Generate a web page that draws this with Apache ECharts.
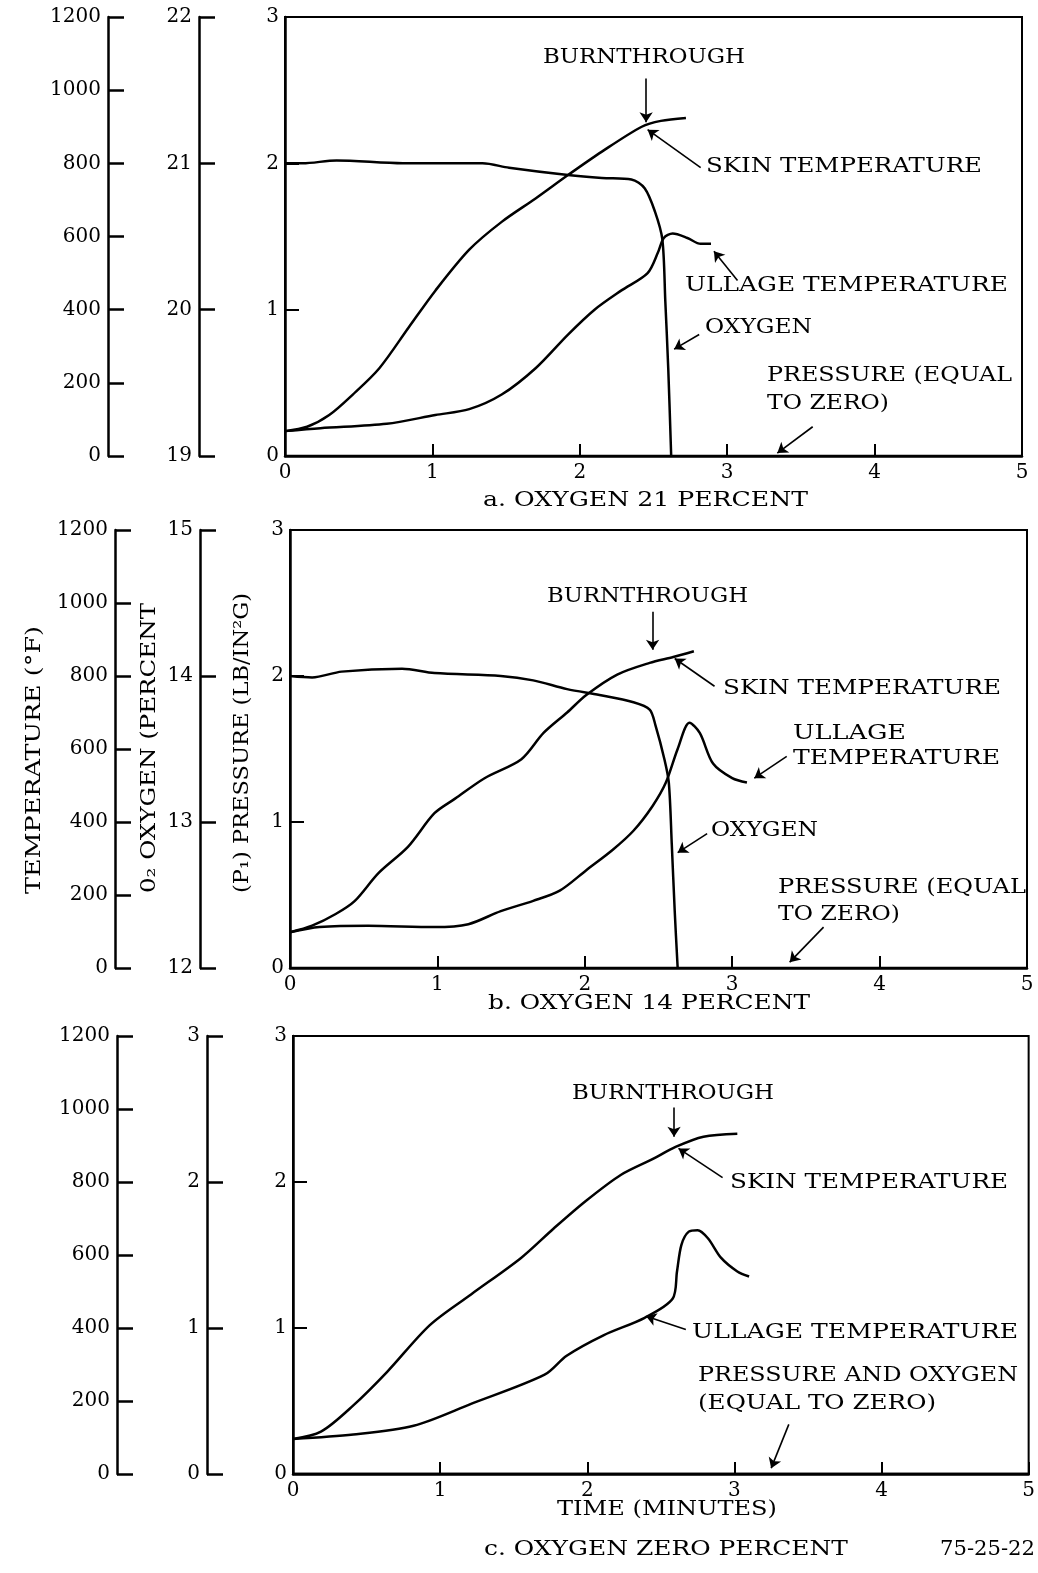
<!DOCTYPE html>
<html>
<head>
<meta charset="utf-8">
<script src="https://cdn.jsdelivr.net/npm/echarts@6/dist/echarts.min.js"></script>
<style>
html, body { margin: 0; padding: 0; background: #fff; }
#chart { width: 1038px; height: 1573px; }
</style>
</head>
<body>
<div id="chart"></div>
<script>
// time (minutes) / temperature (deg F) / oxygen (percent) / pressure (lb/in2 g)
var timeTicks = [0, 1, 2, 3, 4, 5];
var tempTicks = [0, 200, 400, 600, 800, 1000, 1200];
var pressTicks = [0, 1, 2, 3];
var oxyTicksA = [19, 20, 21, 22];
var oxyTicksB = [12, 13, 14, 15];
var oxyTicksC = [0, 1, 2, 3];

// a. oxygen 21 percent
var skinTempA = [[0, 68], [0.15, 80], [0.3, 112], [0.46, 168], [0.64, 240], [0.84, 352], [1.02, 452], [1.25, 564], [1.47, 640], [1.7, 704], [1.92, 768], [2.15, 832], [2.42, 900], [2.55, 916], [2.72, 924]];
var ullageTempA = [[0, 68], [0.24, 76], [0.69, 88], [1.02, 112], [1.25, 128], [1.47, 168], [1.7, 240], [1.92, 332], [2.1, 400], [2.28, 452], [2.46, 500], [2.53, 556], [2.57, 596], [2.63, 608], [2.73, 596], [2.82, 580], [2.89, 580]];
var oxygenA = [[0, 21.0], [0.12, 21.0], [0.35, 21.02], [0.8, 21.0], [1.34, 21.0], [1.52, 20.97], [1.92, 20.92], [2.15, 20.9], [2.35, 20.89], [2.44, 20.83], [2.51, 20.67], [2.56, 20.48], [2.58, 20.06], [2.6, 19.6], [2.62, 19.0]];
var pressureA = [[0, 0], [5, 0]];

// b. oxygen 14 percent
var skinTempB = [[0, 98], [0.15, 116], [0.31, 148], [0.44, 184], [0.6, 260], [0.8, 332], [0.98, 424], [1.12, 464], [1.32, 520], [1.57, 572], [1.72, 644], [1.88, 700], [2.01, 748], [2.22, 804], [2.44, 836], [2.6, 852], [2.74, 868]];
var ullageTempB = [[0, 98], [0.2, 112], [0.53, 116], [0.98, 112], [1.21, 120], [1.43, 156], [1.65, 184], [1.83, 212], [2.01, 268], [2.19, 324], [2.33, 376], [2.46, 444], [2.55, 508], [2.63, 600], [2.71, 672], [2.78, 644], [2.87, 560], [3.0, 520], [3.1, 508]];
var oxygenB = [[0, 14.0], [0.15, 13.99], [0.35, 14.03], [0.76, 14.05], [0.98, 14.02], [1.43, 14.0], [1.65, 13.97], [1.88, 13.91], [2.1, 13.87], [2.33, 13.82], [2.44, 13.77], [2.48, 13.66], [2.54, 13.43], [2.57, 13.27], [2.59, 12.85], [2.61, 12.39], [2.63, 12.0]];
var pressureB = [[0, 0], [5, 0]];

// c. oxygen zero percent
var skinTempC = [[0, 96], [0.19, 116], [0.41, 188], [0.64, 280], [0.93, 408], [1.21, 492], [1.55, 592], [1.77, 672], [1.99, 748], [2.23, 820], [2.45, 864], [2.6, 896], [2.79, 924], [3.02, 932]];
var ullageTempC = [[0, 96], [0.41, 108], [0.82, 132], [1.21, 192], [1.71, 272], [1.86, 324], [2.11, 380], [2.39, 428], [2.58, 480], [2.61, 555], [2.64, 628], [2.69, 664], [2.75, 668], [2.82, 646], [2.91, 592], [3.02, 555], [3.1, 541]];
var oxygenC = [[0, 0], [5, 0]];
var pressureC = [[0, 0], [5, 0]];

// leader arrows, in (time, pressure-axis) units: [fromT, fromV, toT, toV]
var arrowsA = [[2.45, 2.58, 2.45, 2.28], [2.82, 1.97, 2.46, 2.23], [3.07, 1.2, 2.91, 1.4], [2.81, 0.83, 2.64, 0.73], [3.58, 0.2, 3.34, 0.02]];
var arrowsB = [[2.46, 2.44, 2.46, 2.18], [2.88, 1.93, 2.61, 2.12], [3.37, 1.45, 3.15, 1.3], [2.83, 0.92, 2.63, 0.79], [3.62, 0.28, 3.39, 0.04]];
var arrowsC = [[2.59, 2.51, 2.59, 2.31], [2.92, 2.03, 2.62, 2.23], [2.67, 0.99, 2.4, 1.08], [3.37, 0.34, 3.25, 0.04]];

var FONT = 'DejaVu Serif';
var BLACK = '#000';

var panels = [
    { grid: { left: 285, top: 17, width: 737, height: 439 }, tempOff: 177, oxyOff: 86, oxyTicks: oxyTicksA,
      skin: skinTempA, ullage: ullageTempA, oxygen: oxygenA, pressure: pressureA, arrows: arrowsA },
    { grid: { left: 290, top: 530, width: 737, height: 438 }, tempOff: 175, oxyOff: 90, oxyTicks: oxyTicksB,
      skin: skinTempB, ullage: ullageTempB, oxygen: oxygenB, pressure: pressureB, arrows: arrowsB },
    { grid: { left: 293, top: 1036, width: 737, height: 438 }, tempOff: 176, oxyOff: 86, oxyTicks: oxyTicksC,
      skin: skinTempC, ullage: ullageTempC, oxygen: oxygenC, pressure: pressureC, arrows: arrowsC }
];

// free text: [text, left, centerY, width]
var notes = [
    ['BURNTHROUGH', 543, 58, 202],
    ['SKIN TEMPERATURE', 706, 167, 276],
    ['ULLAGE TEMPERATURE', 685, 286, 323],
    ['OXYGEN', 705, 328, 107],
    ['PRESSURE (EQUAL', 767, 376, 245],
    ['TO ZERO)', 767, 404, 122],
    ['a. OXYGEN 21 PERCENT', 483, 501, 325],
    ['BURNTHROUGH', 547, 597, 201],
    ['SKIN TEMPERATURE', 723, 689, 278],
    ['ULLAGE', 793, 734, 113],
    ['TEMPERATURE', 793, 759, 207],
    ['OXYGEN', 711, 831, 107],
    ['PRESSURE (EQUAL', 778, 888, 248],
    ['TO ZERO)', 778, 915, 122],
    ['b. OXYGEN 14 PERCENT', 488, 1004, 322],
    ['BURNTHROUGH', 572, 1094, 202],
    ['SKIN TEMPERATURE', 730, 1183, 278],
    ['ULLAGE TEMPERATURE', 692, 1333, 326],
    ['PRESSURE AND OXYGEN', 698, 1376, 320],
    ['(EQUAL TO ZERO)', 698, 1404, 238],
    ['TIME (MINUTES)', 557, 1510, 220],
    ['c. OXYGEN ZERO PERCENT', 484, 1550, 364],
    ['75-25-22', 940, 1550, 95]
];
// rotated axis titles: [text, centerX, centerY, length]
var axisTitles = [
    ['TEMPERATURE (\u00B0F)', 35, 760, 268],
    ['0\u2082 OXYGEN (PERCENT', 150, 748, 290],
    ['(P\u2081) PRESSURE (LB/IN\u00B2G)', 243, 743, 300]
];

var measureCtx = document.createElement('canvas').getContext('2d');
function textScale(text, size, width) {
    measureCtx.font = size + 'px "' + FONT + '"';
    return width / measureCtx.measureText(text).width;
}

var labelStyle = {
    color: BLACK, fontFamily: FONT, fontSize: 20,
    formatter: function (v) { return String(v); }
};

var grids = [], xAxes = [], yAxes = [], series = [];
panels.forEach(function (p, i) {
    grids.push({
        left: p.grid.left, top: p.grid.top, width: p.grid.width, height: p.grid.height,
        show: true, borderColor: BLACK, borderWidth: 2
    });
    xAxes.push({
        gridIndex: i, type: 'value',
        min: timeTicks[0], max: timeTicks[timeTicks.length - 1], interval: 1,
        axisLine: { lineStyle: { color: BLACK, width: 2.5 } },
        axisTick: { inside: true, length: 12, lineStyle: { color: BLACK, width: 2 } },
        axisLabel: Object.assign({ margin: 7 }, labelStyle),
        splitLine: { show: false }
    });
    // pressure axis (left edge of the plot)
    yAxes.push({
        gridIndex: i, type: 'value', position: 'left',
        min: pressTicks[0], max: pressTicks[pressTicks.length - 1], interval: 1,
        axisLine: { show: true, lineStyle: { color: BLACK, width: 2.5 } },
        axisTick: { inside: true, length: 14, lineStyle: { color: BLACK, width: 2 } },
        axisLabel: Object.assign({ margin: 6 }, labelStyle),
        splitLine: { show: false }
    });
    // temperature axis
    yAxes.push({
        gridIndex: i, type: 'value', position: 'left', offset: p.tempOff,
        min: tempTicks[0], max: tempTicks[tempTicks.length - 1], interval: 200,
        axisLine: { show: true, lineStyle: { color: BLACK, width: 2.5 } },
        axisTick: { inside: true, length: 16, lineStyle: { color: BLACK, width: 2.5 } },
        axisLabel: Object.assign({ margin: 7 }, labelStyle),
        splitLine: { show: false }
    });
    // oxygen axis
    yAxes.push({
        gridIndex: i, type: 'value', position: 'left', offset: p.oxyOff,
        min: p.oxyTicks[0], max: p.oxyTicks[p.oxyTicks.length - 1], interval: 1,
        axisLine: { show: true, lineStyle: { color: BLACK, width: 2.5 } },
        axisTick: { inside: true, length: 16, lineStyle: { color: BLACK, width: 2.5 } },
        axisLabel: Object.assign({ margin: 7 }, labelStyle),
        splitLine: { show: false }
    });

    var curve = function (name, data, yIdx) {
        return {
            name: name, type: 'line', xAxisIndex: i, yAxisIndex: yIdx, data: data,
            smooth: 0.3, showSymbol: false, silent: true,
            lineStyle: { color: BLACK, width: 2.5 }, z: 3
        };
    };
    series.push(curve('Skin temperature', p.skin, i * 3 + 1));
    series.push(curve('Ullage temperature', p.ullage, i * 3 + 1));
    series.push(curve('Oxygen', p.oxygen, i * 3 + 2));
    var pr = curve('Pressure', p.pressure, i * 3);
    pr.markLine = {
        silent: true, animation: false,
        symbol: ['none', 'arrow'], symbolSize: 10,
        label: { show: false },
        lineStyle: { color: BLACK, width: 1.6, type: 'solid' },
        data: p.arrows.map(function (a) {
            return [{ coord: [a[0], a[1]] }, { coord: [a[2], a[3]] }];
        })
    };
    series.push(pr);
});

var graphics = [];
notes.forEach(function (n) {
    graphics.push({
        type: 'text', x: n[1], y: n[2], scaleX: textScale(n[0], 20, n[3]), silent: true,
        style: { text: n[0], fill: BLACK, font: '20px "' + FONT + '"',
                 align: 'left', verticalAlign: 'middle', textAlign: 'left', textVerticalAlign: 'middle' }
    });
});
axisTitles.forEach(function (n) {
    graphics.push({
        type: 'text', x: n[1], y: n[2], rotation: Math.PI / 2, scaleX: textScale(n[0], 20, n[3]), silent: true,
        style: { text: n[0], fill: BLACK, font: '20px "' + FONT + '"',
                 align: 'center', verticalAlign: 'middle', textAlign: 'center', textVerticalAlign: 'middle' }
    });
});

var chart = echarts.init(document.getElementById('chart'));
chart.setOption({
    animation: false,
    backgroundColor: '#fff',
    textStyle: { fontFamily: FONT },
    grid: grids,
    xAxis: xAxes,
    yAxis: yAxes,
    series: series,
    graphic: graphics
});
</script>
</body>
</html>
